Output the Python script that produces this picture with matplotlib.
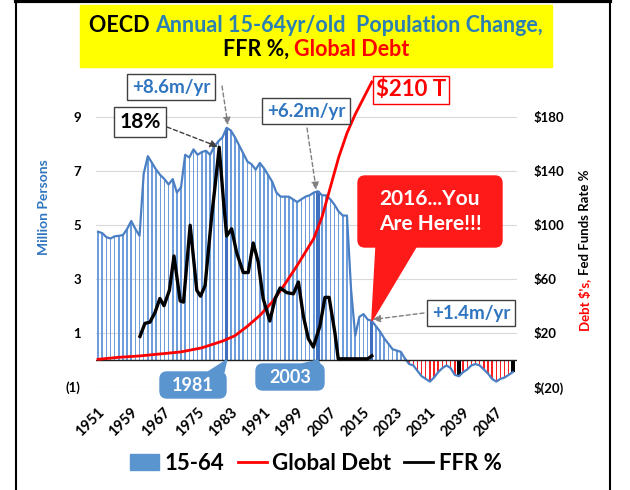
import numpy as np
import matplotlib.pyplot as plt
from matplotlib.patches import Rectangle, Patch, FancyBboxPatch, Polygon
from matplotlib.lines import Line2D
from matplotlib.offsetbox import TextArea, HPacker, AnnotationBbox

plt.rcParams['font.family'] = ['Lato', 'DejaVu Sans']
plt.rcParams['font.weight'] = 'bold'

# ---- data ----
years = np.arange(1950, 2051)
pop = [4.75, 4.70, 4.55, 4.50, 4.58, 4.60, 4.63, 4.85, 5.15, 4.85,   # 1950s
       4.60, 6.90, 7.55, 7.30, 7.05, 6.85, 6.70, 6.50, 6.70, 6.20,   # 1960s
       6.40, 7.60, 7.50, 7.80, 7.60, 7.70, 7.75, 7.60, 7.90, 8.10,   # 1970s
       8.25, 8.60, 8.50, 8.25, 7.95, 7.65, 7.35, 7.25, 7.05, 7.30,   # 1980s
       7.10, 6.85, 6.60, 6.20, 6.05, 6.05, 6.05, 5.95, 5.85, 5.95,   # 1990s
       6.05, 6.10, 6.20, 6.25, 6.10, 6.10, 5.95, 5.75, 5.50, 5.35,   # 2000s
       5.35, 2.60, 0.90, 1.60, 1.70, 1.50, 1.45, 1.25, 1.05, 0.80,   # 2010s
       0.60, 0.40, 0.35, 0.30, 0.05, -0.15, -0.20, -0.40, -0.60, -0.70,  # 2020s
       -0.80, -0.65, -0.45, -0.30, -0.20, -0.30, -0.55, -0.60, -0.45, -0.35,  # 2030s
       -0.20, -0.15, -0.20, -0.35, -0.50, -0.70, -0.80, -0.70, -0.65, -0.55,  # 2040s
       -0.45]
highlight_years = [1981, 2003, 2016]
black_years = [2037, 2050]

debt_years = [1950, 1955, 1960, 1965, 1970, 1975, 1980, 1983, 1986, 1989, 1992,
              1995, 1998, 2000, 2002, 2004, 2006, 2008, 2010, 2012, 2014, 2016]
debt = [0.5, 2, 3, 4.5, 6, 9, 14, 18, 25, 33, 43,
        56, 70, 80, 90, 106, 128, 150, 168, 182, 194, 206]

ffr_years = [1960.1, 1961.3, 1962.5, 1963.7, 1964.9, 1965.9, 1967.2, 1968.3, 1969.8,
             1970.6, 1972.2, 1973.8, 1974.7, 1975.8, 1977.4, 1978.2, 1979.2, 1980.2,
             1981.0, 1982.2, 1983.4, 1985.0, 1986.2, 1987.4, 1988.6, 1989.8, 1991.4,
             1992.7, 1993.9, 1995.5, 1997.1, 1998.3, 1999.5, 2000.7, 2001.9, 2003.5,
             2004.7, 2005.7, 2007.1, 2007.9, 2015.0, 2016.0]
ffr = [2.0, 3.1, 3.2, 4.0, 5.2, 4.6, 5.9, 8.8, 5.0,
       4.9, 11.4, 5.9, 5.4, 6.3, 12.2, 14.7, 18.0, 13.6,
       10.5, 11.1, 9.1, 7.4, 7.4, 9.9, 8.3, 5.2, 3.3,
       5.2, 6.1, 5.7, 5.6, 6.6, 3.7, 1.8, 1.1, 2.9,
       5.3, 5.3, 2.3, 0.1, 0.1, 0.35]

x_ticks = list(range(1951, 2048, 8))
left_ticks = [-1, 1, 3, 5, 7, 9]
left_labels = ['(1)', '1', '3', '5', '7', '9']
right_ticks = [-20, 20, 60, 100, 140, 180]
right_labels = ['$(20)', '$20', '$60', '$100', '$140', '$180']

bar_blue = '#6d9edb'
line_blue = '#4a7fc4'
dark_blue = '#3f6fbf'
call_blue = '#5b95d0'
txt_blue = '#2f75c0'

W, H = 630, 490
fig = plt.figure(figsize=(W / 100, H / 100), dpi=100)
ax = fig.add_axes([96 / W, 1 - 387 / H, (517 - 96) / W, (387 - 63) / H])
ax.set_xlim(1949.5, 2051)
ax.set_ylim(-1, 11)

colors = []
widths = []
for y, v in zip(years, pop):
    if y in black_years:
        colors.append('black'); widths.append(0.8)
    elif y in highlight_years:
        colors.append(dark_blue); widths.append(0.8)
    elif v < 0:
        colors.append('#ff2020'); widths.append(0.35)
    else:
        colors.append(bar_blue); widths.append(0.38)
ax.bar(years, pop, width=widths, color=colors, zorder=2)
ax.plot(years, pop, color=line_blue, lw=1.6, zorder=3)
ax.axhline(0, color='#202020', lw=1.0, zorder=4)

ax.set_yticks(left_ticks)
ax.set_yticklabels(left_labels, fontsize=9.5, fontweight='bold')
ax.yaxis.grid(True, color='#d9d9d9', lw=0.8, zorder=0)
ax.set_axisbelow(True)
ax.set_xticks(x_ticks)
ax.set_xticklabels([str(t) for t in x_ticks], rotation=45, ha='right', va='center',
                   rotation_mode='anchor', fontsize=10.5, fontweight='bold')
ax.tick_params(axis='y', length=0, pad=11)
ax.tick_params(axis='x', length=0, pad=17)
for s in ax.spines.values():
    s.set_visible(False)

ax2 = ax.twinx()
ax2.set_ylim(-20, 220)
ax2.plot(debt_years, debt, color='#ff0000', lw=2.0, zorder=5)
ax2.set_yticks(right_ticks)
ax2.set_yticklabels(right_labels, fontsize=9.5, fontweight='bold')
ax2.tick_params(axis='y', length=0, pad=12)
for s in ax2.spines.values():
    s.set_visible(False)

ax3 = ax.twinx()
ax3.set_ylim(-2.284, 25.13)
ax3.plot(ffr_years, ffr, color='black', lw=2.4, zorder=6)
ax3.axis('off')

# overlay in pixel coords for frame, title and callouts
over = fig.add_axes([0, 0, 1, 1], zorder=10)
over.set_xlim(0, W)
over.set_ylim(H, 0)
over.axis('off')

over.plot([16, 16], [0, H], color='black', lw=1.5)
over.plot([610, 610], [0, H], color='black', lw=1.5)
over.plot([16, 610], [1.5, 1.5], color='black', lw=3)

over.add_patch(Rectangle((80, 5), 472, 62, color='#ffff00', zorder=1))


def multicolor(parts, x, y, size):
    boxes = [TextArea(t, textprops=dict(color=c, fontsize=size, fontweight='bold'))
             for t, c in parts]
    pack = HPacker(children=boxes, align='baseline', pad=0, sep=0)
    ab = AnnotationBbox(pack, (x, y), xycoords='data', frameon=False,
                        box_alignment=(0.5, 0.5))
    over.add_artist(ab)


multicolor([('OECD ', 'black'), ('Annual 15-64yr/old  Population Change,', '#2a7fb4')],
           316, 25, 15.5)
multicolor([('FFR %, ', 'black'), ('Global Debt', '#ff0000')], 316, 49, 15.5)

# axis titles
over.text(44, 207, 'Million Persons', rotation=90, ha='center', va='center',
          color=txt_blue, fontsize=10)
debt_lbl = over.text(585, 331, "Debt $'s,", rotation=90, ha='center', va='bottom',
                     color='#ff0000', fontsize=9.5)
fig.canvas.draw()
bb = debt_lbl.get_window_extent()
top_px = over.transData.inverted().transform((bb.x0, bb.y1))[1]
over.text(585, top_px - 4, 'Fed Funds Rate %', rotation=90, ha='center', va='bottom',
          color='black', fontsize=9.5)

box_w = dict(boxstyle='square,pad=0.25', fc='white', ec='#404040', lw=1)
dash_arrow = dict(arrowstyle='-|>,head_length=0.45,head_width=0.22', ls=(0, (3, 2)),
                  color='#808080', lw=1, shrinkA=0, shrinkB=0)
pix = over.transData

over.text(171, 87, '+8.6m/yr', ha='center', va='center', color=txt_blue,
          fontsize=13.5, bbox=box_w, zorder=5)
over.annotate('', xy=(1981.3, 8.7), xycoords=ax.transData, xytext=(222, 86),
              textcoords=pix, arrowprops=dash_arrow)

over.text(140, 122, '18%', ha='center', va='center', color='black',
          fontsize=15, bbox=box_w, zorder=5)
arr18 = dict(dash_arrow, color='#404040')
over.annotate('', xy=(1978.9, 7.9), xycoords=ax.transData, xytext=(167, 127),
              textcoords=pix, arrowprops=arr18)

over.text(306, 111, '+6.2m/yr', ha='center', va='center', color=txt_blue,
          fontsize=13.5, bbox=box_w, zorder=5)
over.annotate('', xy=(2002.6, 6.3), xycoords=ax.transData, xytext=(307, 128),
              textcoords=pix, arrowprops=dash_arrow)

over.text(411, 90, '$210 T', ha='center', va='center', color='#ff0000', fontsize=16,
          bbox=dict(boxstyle='square,pad=0.15', fc='white', ec='#ff0000', lw=1), zorder=5)

over.text(471, 313, '+1.4m/yr', ha='center', va='center', color=txt_blue,
          fontsize=13.5, bbox=box_w, zorder=5)
over.annotate('', xy=(2016.2, 1.5), xycoords=ax.transData, xytext=(424, 313),
              textcoords=pix, arrowprops=dash_arrow)


def to_px(x, y):
    disp = ax.transData.transform((x, y))
    return over.transData.inverted().transform(disp)


def callout(x0, y0, w, h, text, fc, tail_base, tip, size, tail_top=False):
    over.add_patch(FancyBboxPatch((x0, y0), w, h, boxstyle='round,pad=0,rounding_size=7',
                                  fc=fc, ec=fc, zorder=6))
    tx, ty = to_px(*tip)
    yb = y0 if tail_top else y0 + h
    over.add_patch(Polygon([(tail_base[0], yb), (tail_base[1], yb), (tx, ty)],
                           closed=True, fc=fc, ec=fc, zorder=6))
    over.text(x0 + w / 2, y0 + h / 2, text, ha='center', va='center', color='white',
              fontsize=size, zorder=7, linespacing=1.3)


callout(358, 176, 144, 71, '2016...You\nAre Here!!!', '#ff1a1a', (376, 416),
        (2016, 1.45), 15)
callout(160, 372, 66, 26, '1981', call_blue, (208, 224), (1981, 0), 13, tail_top=True)
callout(256, 364, 68, 26, '2003', call_blue, (302, 320), (2003, 0), 13, tail_top=True)

handles = [Patch(color=call_blue), Line2D([], [], color='#ff0000', lw=2),
           Line2D([], [], color='black', lw=2)]
fig.legend(handles, ['15-64', 'Global Debt', 'FFR %'], loc='center',
           bbox_to_anchor=(316 / W, 1 - 463 / H), ncol=3, frameon=False, fontsize=16,
           handlelength=1.3, handletextpad=0.25, columnspacing=0.6)

fig.savefig('out.png', dpi=100)
